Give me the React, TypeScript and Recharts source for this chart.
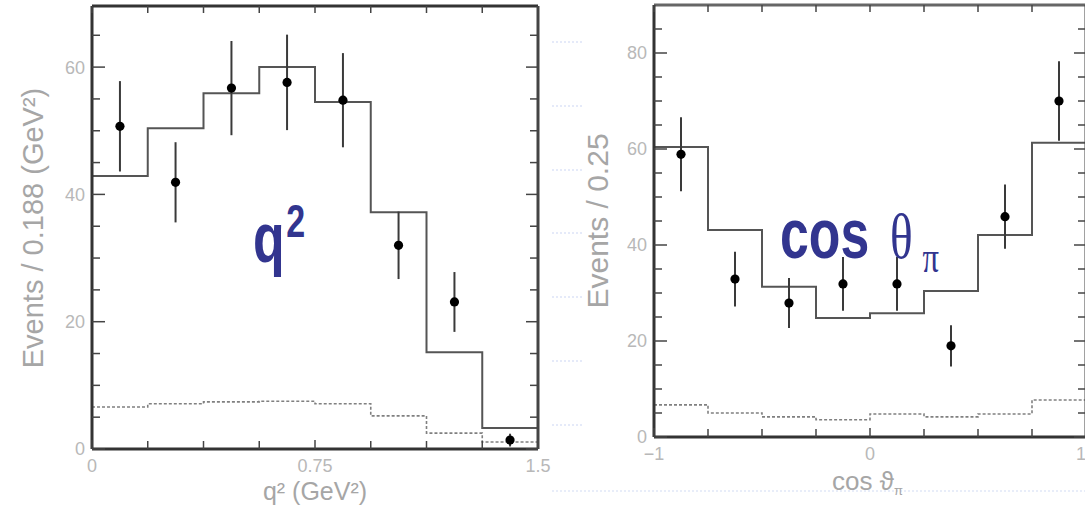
import React from 'react';
import { ComposedChart, Line, Scatter, ErrorBar, XAxis, YAxis } from 'recharts';

// q^2 panel (bins of 0.188 GeV^2)
const q2Edges = [0, 0.1875, 0.375, 0.5625, 0.75, 0.9375, 1.125, 1.3125, 1.5];
const q2Fit = [42.9, 50.4, 55.9, 60.0, 54.5, 37.2, 15.2, 3.3];
const q2Bkg = [6.6, 7.1, 7.4, 7.5, 7.1, 5.2, 2.5, 1.1];
const q2Centers = [0.094, 0.281, 0.469, 0.656, 0.844, 1.031, 1.219, 1.406];
const q2Events = [50.7, 41.9, 56.7, 57.6, 54.8, 32.0, 23.1, 1.4];
const q2Errors = [7.1, 6.3, 7.4, 7.5, 7.4, 5.3, 4.7, 1.0];
const q2YTicks = [0, 5, 10, 15, 20, 25, 30, 35, 40, 45, 50, 55, 60, 65];
const q2YLabels = [0, 20, 40, 60];
const q2XLabels = [0, 0.75, 1.5];

// cos theta_pi panel (bins of 0.25)
const cosEdges = [-1, -0.75, -0.5, -0.25, 0, 0.25, 0.5, 0.75, 1];
const cosFit = [60.4, 43.1, 31.3, 24.8, 25.8, 30.4, 42.1, 61.3];
const cosBkg = [6.7, 5.0, 4.2, 3.6, 4.8, 4.2, 4.8, 7.7];
const cosCenters = [-0.875, -0.625, -0.375, -0.125, 0.125, 0.375, 0.625, 0.875];
const cosEvents = [58.9, 32.9, 27.9, 31.9, 31.9, 19.0, 45.9, 70.0];
const cosErrors = [7.7, 5.7, 5.2, 5.6, 5.6, 4.3, 6.7, 8.3];
const cosYTicks = [0, 5, 10, 15, 20, 25, 30, 35, 40, 45, 50, 55, 60, 65, 70, 75, 80, 85];
const cosYLabels = [0, 20, 40, 60, 80];
const cosXLabels = [-1, 0, 1];

const toSteps = (edges: number[], vals: number[]) =>
  edges.map((x, i) => ({ x, v: vals[Math.min(i, vals.length - 1)] }));

const toPoints = (centers: number[], events: number[], errors: number[]) =>
  centers.map((x, i) => ({ x, y: events[i], err: errors[i] }));

const TICK_COLOR = '#444';
const LABEL_COLOR = '#b8b8b8';
const FONT = '"Liberation Sans", Arial, sans-serif';

type Side = 'left' | 'right' | 'top' | 'bottom';

const makeTick =
  (
    side: Side,
    majors: number[],
    majorLen: number,
    minorLen: number,
    fmt?: (v: number) => string,
    anchorFor?: (v: number) => 'start' | 'middle' | 'end'
  ) =>
  (props: any) => {
    const { x, y, payload } = props;
    const v = payload.value;
    const isMajor = majors.some((m) => Math.abs(m - v) < 1e-6);
    const len = isMajor ? majorLen : minorLen;
    let line = null;
    let text = null;
    const textStyle = { fill: LABEL_COLOR, fontSize: 18, fontFamily: FONT };
    if (side === 'left') {
      line = <line x1={x} y1={y} x2={x + len} y2={y} />;
      if (isMajor && fmt)
        text = (
          <text x={x - 7} y={y} dy="0.36em" textAnchor="end" style={textStyle}>
            {fmt(v)}
          </text>
        );
    } else if (side === 'right') {
      line = <line x1={x} y1={y} x2={x - len} y2={y} />;
    } else if (side === 'top') {
      line = <line x1={x} y1={y} x2={x} y2={y + len} />;
    } else {
      line = <line x1={x} y1={y} x2={x} y2={y - len} />;
      if (isMajor && fmt)
        text = (
          <text
            x={x}
            y={y + 17}
            dy="0.36em"
            textAnchor={anchorFor ? anchorFor(v) : 'middle'}
            style={textStyle}
          >
            {fmt(v)}
          </text>
        );
    }
    return (
      <g>
        <g stroke={TICK_COLOR} strokeWidth={1.5}>{line}</g>
        {text}
      </g>
    );
  };

const Dot = (props: any) => <circle cx={props.cx} cy={props.cy} r={4.6} fill="#000" />;

interface PanelProps {
  edges: number[];
  fit: number[];
  bkg: number[];
  centers: number[];
  events: number[];
  errors: number[];
  xDomain: [number, number];
  yDomain: [number, number];
  yTicks: number[];
  yLabels: number[];
  xLabels: number[];
  xFmt: (v: number) => string;
  xAnchor?: (v: number) => 'start' | 'middle' | 'end';
  width: number;
  height: number;
  margin: { top: number; right: number; bottom: number; left: number };
  topFrame: string;
}

const Panel: React.FC<PanelProps> = (p) => {
  const fitSteps = toSteps(p.edges, p.fit);
  const bkgSteps = toSteps(p.edges, p.bkg);
  const points = toPoints(p.centers, p.events, p.errors);
  return (
    <ComposedChart width={p.width} height={p.height} margin={p.margin}>
      <XAxis
        xAxisId="b"
        dataKey="x"
        type="number"
        domain={p.xDomain}
        allowDataOverflow
        ticks={p.edges}
        interval={0}
        height={30}
        tickSize={0}
        tickMargin={0}
        tickLine={false}
        axisLine={{ stroke: '#333', strokeWidth: 3 }}
        tick={makeTick('bottom', p.xLabels, 9, 8, p.xFmt, p.xAnchor)}
      />
      <XAxis
        xAxisId="t"
        orientation="top"
        dataKey="x"
        type="number"
        domain={p.xDomain}
        allowDataOverflow
        ticks={p.edges}
        interval={0}
        height={1}
        tickSize={0}
        tickMargin={0}
        tickLine={false}
        axisLine={{ stroke: p.topFrame, strokeWidth: 3 }}
        tick={makeTick('top', [], 7, 7)}
      />
      <YAxis
        yAxisId="l"
        type="number"
        domain={p.yDomain}
        allowDataOverflow
        ticks={p.yTicks}
        interval={0}
        width={40}
        tickSize={0}
        tickMargin={0}
        tickLine={false}
        axisLine={{ stroke: '#333', strokeWidth: 3 }}
        tick={makeTick('left', p.yLabels, 13, 8, (v) => String(v))}
      />
      <YAxis
        yAxisId="r"
        orientation="right"
        type="number"
        domain={p.yDomain}
        allowDataOverflow
        ticks={p.yTicks}
        interval={0}
        width={10}
        tickSize={0}
        tickMargin={0}
        tickLine={false}
        axisLine={{ stroke: '#444', strokeWidth: 3 }}
        tick={makeTick('right', p.yLabels, 12, 8)}
      />
      <Line
        xAxisId="b"
        yAxisId="l"
        data={bkgSteps}
        dataKey="v"
        type="stepAfter"
        stroke="#808080"
        strokeWidth={1.6}
        strokeDasharray="3 2"
        dot={false}
        isAnimationActive={false}
      />
      <Line
        xAxisId="b"
        yAxisId="l"
        data={fitSteps}
        dataKey="v"
        type="stepAfter"
        stroke="#555"
        strokeWidth={2}
        dot={false}
        isAnimationActive={false}
      />
      <Scatter
        xAxisId="b"
        yAxisId="l"
        data={points}
        dataKey="y"
        shape={Dot}
        isAnimationActive={false}
      >
        <ErrorBar dataKey="err" direction="y" width={0} stroke="#3a3a3a" strokeWidth={2} />
      </Scatter>
    </ComposedChart>
  );
};

const gapLines = [42, 106, 170, 233, 297, 361, 425];

export default function App() {
  return (
    <div
      style={{
        position: 'absolute',
        left: 0,
        top: 0,
        width: 1085,
        height: 507,
        overflow: 'hidden',
        background: '#fff',
      }}
    >
      <div style={{ position: 'absolute', left: 0, top: 0 }}>
        <Panel
          edges={q2Edges}
          fit={q2Fit}
          bkg={q2Bkg}
          centers={q2Centers}
          events={q2Events}
          errors={q2Errors}
          xDomain={[0, 1.5]}
          yDomain={[0, 69.6]}
          yTicks={q2YTicks}
          yLabels={q2YLabels}
          xLabels={q2XLabels}
          xFmt={(v) => String(v)}
          width={560}
          height={507}
          margin={{ top: 5, right: 12, bottom: 28, left: 52 }}
          topFrame="#333"
        />
      </div>
      <div style={{ position: 'absolute', left: 560, top: 0 }}>
        <Panel
          edges={cosEdges}
          fit={cosFit}
          bkg={cosBkg}
          centers={cosCenters}
          events={cosEvents}
          errors={cosErrors}
          xDomain={[-1, 1]}
          yDomain={[0, 90]}
          yTicks={cosYTicks}
          yLabels={cosYLabels}
          xLabels={cosXLabels}
          xFmt={(v) => (v < 0 ? '\u2212' + Math.abs(v) : String(v))}
          xAnchor={(v) => (v >= 1 ? 'end' : 'middle')}
          width={540}
          height={507}
          margin={{ top: 4, right: 4, bottom: 40, left: 54 }}
          topFrame="#666"
        />
      </div>
      <svg
        width={1085}
        height={507}
        style={{ position: 'absolute', left: 0, top: 0, pointerEvents: 'none' }}
      >
        {gapLines.map((y) => (
          <line key={y} x1={552} x2={584} y1={y} y2={y} stroke="#dde4f7" strokeWidth={1.5} strokeDasharray="2 2" />
        ))}
        <line x1={552} x2={1085} y1={491} y2={491} stroke="#e1e7f7" strokeWidth={1.5} strokeDasharray="2 2" />

        {/* axis titles */}
        <text
          transform="translate(33,228) rotate(-90)"
          textAnchor="middle"
          dominantBaseline="central"
          style={{ fill: '#a6a6a6', fontSize: 29, fontFamily: FONT }}
        >
          Events / 0.188 (GeV²)
        </text>
        <text
          transform="translate(597,221) rotate(-90)"
          textAnchor="middle"
          dominantBaseline="central"
          style={{ fill: '#a6a6a6', fontSize: 30, fontFamily: FONT }}
        >
          Events / 0.25
        </text>
        <text x={315} y={500} textAnchor="middle" style={{ fill: '#a6a6a6', fontSize: 25, fontFamily: FONT }}>
          q² (GeV²)
        </text>
        <text x={832} y={490} style={{ fill: '#a6a6a6', fontSize: 26, fontFamily: FONT }}>
          cos ϑ
          <tspan dy={5} style={{ fontSize: 13 }}>
            π
          </tspan>
        </text>

        {/* big annotations */}
        <g transform="translate(253,262) scale(0.74,1)">
          <text x={0} y={0} style={{ fill: '#32358f', fontSize: 70, fontWeight: 700, fontFamily: FONT }}>
            q
          </text>
          <text x={45} y={-25} style={{ fill: '#32358f', fontSize: 46, fontWeight: 700, fontFamily: FONT }}>
            2
          </text>
        </g>
        <g transform="translate(780,258) scale(0.74,1)">
          <text x={0} y={0} style={{ fill: '#32358f', fontSize: 70, fontWeight: 700, fontFamily: FONT }}>
            cos
          </text>
        </g>
        <g transform="translate(890,258) scale(0.74,1)">
          <text x={0} y={0} style={{ fill: '#32358f', fontSize: 64, fontFamily: '"Liberation Serif", serif' }}>
            θ
          </text>
          <text x={44} y={14} style={{ fill: '#32358f', fontSize: 44, fontFamily: '"Liberation Serif", serif' }}>
            π
          </text>
        </g>
      </svg>
    </div>
  );
}
